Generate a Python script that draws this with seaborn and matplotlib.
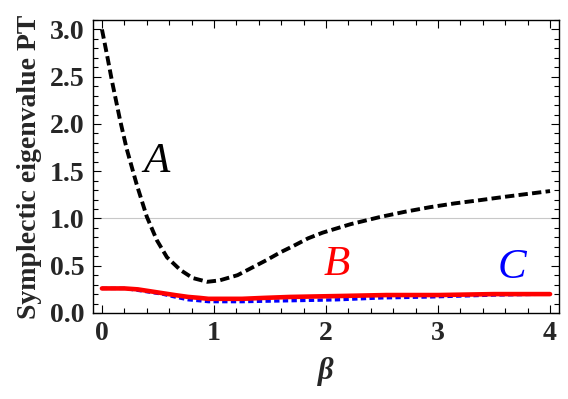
import numpy as np
import pandas as pd
import matplotlib
matplotlib.use("Agg")
import matplotlib.pyplot as plt
from matplotlib.ticker import MultipleLocator
import seaborn as sns

# Data
beta_A = [0.0, 0.05, 0.09, 0.16, 0.22, 0.31, 0.40, 0.49, 0.58, 0.70, 0.81, 0.94, 1.05, 1.21, 1.34, 1.47, 1.59, 1.71, 1.84, 1.97, 2.22, 2.48, 2.70, 2.93, 3.15, 3.35, 3.60, 3.80, 4.0]
val_A  = [3.0, 2.70, 2.45, 2.05, 1.74, 1.36, 1.02, 0.77, 0.59, 0.455, 0.37, 0.33, 0.345, 0.40, 0.48, 0.56, 0.64, 0.71, 0.79, 0.85, 0.94, 1.015, 1.07, 1.12, 1.16, 1.19, 1.23, 1.26, 1.29]

beta_B = [0.0, 0.2, 0.32, 0.43, 0.54, 0.65, 0.77, 0.87, 0.95, 1.1, 1.25, 1.45, 1.68, 1.9, 2.13, 2.54, 3.0, 3.5, 4.0]
val_B  = [0.26, 0.26, 0.25, 0.23, 0.21, 0.19, 0.17, 0.16, 0.15, 0.15, 0.15, 0.16, 0.17, 0.175, 0.18, 0.19, 0.19, 0.20, 0.20]

beta_C = [0.0, 0.2, 0.32, 0.43, 0.54, 0.65, 0.77, 0.87, 0.95, 1.1, 1.25, 1.45, 1.68, 1.9, 2.1, 2.5, 2.93, 3.5, 4.0]
val_C  = [0.26, 0.26, 0.24, 0.22, 0.20, 0.17, 0.14, 0.13, 0.12, 0.12, 0.12, 0.125, 0.13, 0.135, 0.14, 0.16, 0.17, 0.19, 0.20]

labels = ["A", "B", "C"]
label_pos_x = [0.49, 2.10, 3.66]
label_pos_y = [1.60, 0.51, 0.48]
label_colors = ["black", "red", "blue"]

sns.set_style("ticks")
plt.rcParams['font.family'] = ['Liberation Serif', 'DejaVu Serif']

fig = plt.figure(figsize=(5.68, 3.99), dpi=100)
ax = fig.add_axes([93/568, 1-313/399, (559-93)/568, (313-20)/399])

ax.axhline(1.0, color="#c8c8c8", lw=0.8, zorder=0)

dfA = pd.DataFrame({"beta": beta_A, "val": val_A})
dfB = pd.DataFrame({"beta": beta_B, "val": val_B})
dfC = pd.DataFrame({"beta": beta_C, "val": val_C})

sns.lineplot(data=dfC, x="beta", y="val", ax=ax, color="blue", lw=2.4,
             linestyle=(0, (1.6, 1.0)), zorder=2)
sns.lineplot(data=dfB, x="beta", y="val", ax=ax, color="red", lw=3.3, zorder=3)
sns.lineplot(data=dfA, x="beta", y="val", ax=ax, color="black", lw=2.8,
             linestyle=(0, (2.4, 1.1)), zorder=4)

for t, x, y, c in zip(labels, label_pos_x, label_pos_y, label_colors):
    ax.text(x, y, t, color=c, fontsize=31, fontstyle="italic",
            ha="center", va="center")

ax.set_xlim(-0.08, 4.08)
ax.set_ylim(0.0, 3.1)
ax.xaxis.set_major_locator(MultipleLocator(1))
ax.xaxis.set_minor_locator(MultipleLocator(0.2))
ax.yaxis.set_major_locator(MultipleLocator(0.5))
ax.yaxis.set_minor_locator(MultipleLocator(0.1))
ax.set_xticks([0, 1, 2, 3, 4])
ax.set_xticklabels(["0", "1", "2", "3", "4"], fontweight="bold")
ax.set_yticks([0.0, 0.5, 1.0, 1.5, 2.0, 2.5, 3.0])
ax.set_yticklabels(["0.0", "0.5", "1.0", "1.5", "2.0", "2.5", "3.0"], fontweight="bold")
ax.tick_params(which="both", direction="in", top=True, right=True,
               labelsize=20, width=0.8, color="black", pad=6)
ax.tick_params(which="major", length=6)
ax.tick_params(which="minor", length=3.5)
for s in ax.spines.values():
    s.set_linewidth(1.0)
    s.set_color("black")

ax.set_xlabel("β", fontsize=22, fontstyle="italic", fontweight="bold", labelpad=8)
ax.set_ylabel("Symplectic eigenvalue PT", fontsize=20, fontweight="bold", labelpad=6)

fig.savefig("out.png", dpi=100)
